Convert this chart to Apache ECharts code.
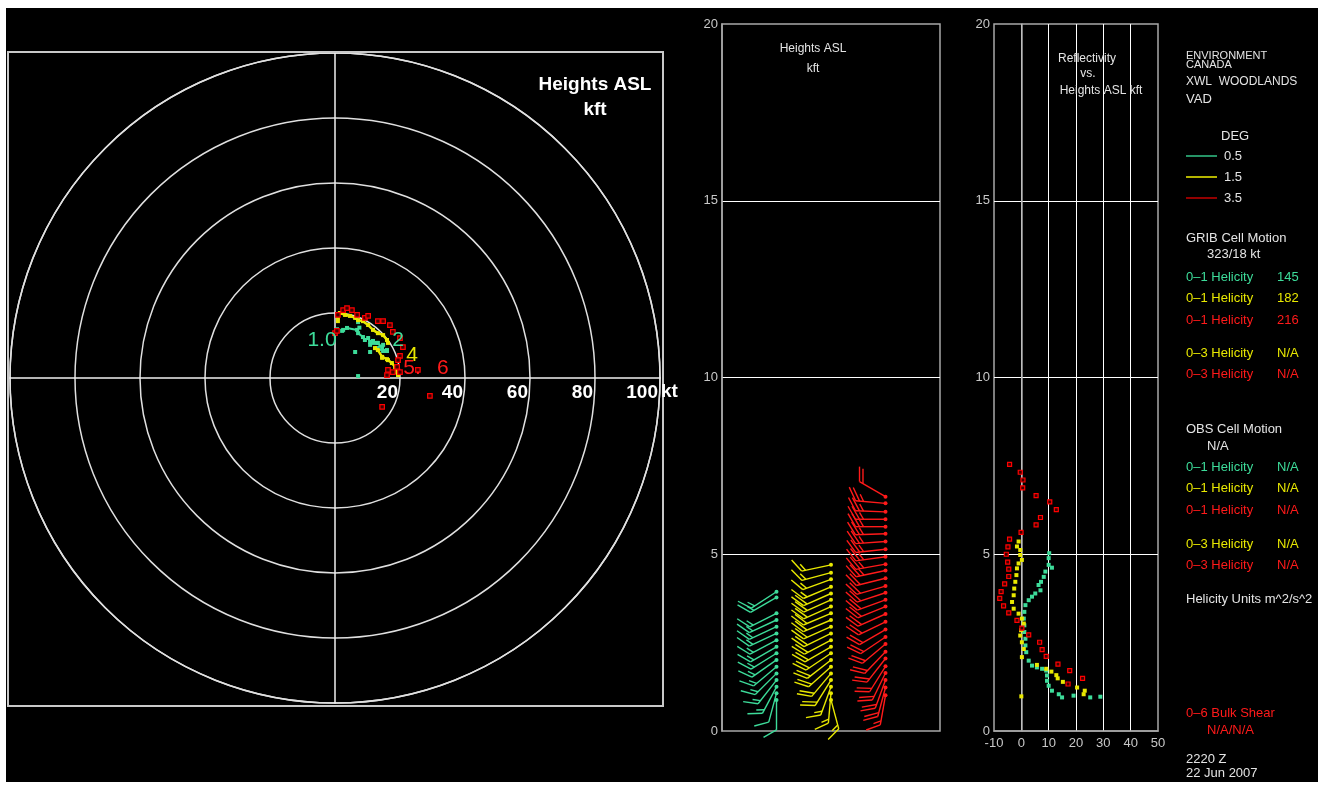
<!DOCTYPE html>
<html><head><meta charset="utf-8">
<script src="https://cdn.jsdelivr.net/npm/echarts@6/dist/echarts.min.js"></script>
<style>
html,body{margin:0;padding:0;background:#fff;width:1323px;height:785px;overflow:hidden;}
#c{position:absolute;left:6px;top:8px;width:1312px;height:774px;background:#000;}
</style></head>
<body><div id="c"></div>
<script>
// ---------- DATA ----------
// Hodograph (u, v in kt)
const hodoGreen = [[2.2,14.5],[2.5,14.8],[3.7,15.4],[6.8,14.8],[7.1,13.8],[8.6,12.6],[9.2,11.7],[10.2,12.3],[10.8,11.1],[11.7,11.4],[12.9,10.8],[13.2,10.8],[14.5,9.5],[14.8,10.2],[12.9,9.2],[14.8,8.3],[16.0,8.3]];
const hodoGreenExtra = [[7.1,17.2],[7.5,15.5],[6.2,8.0],[10.8,8.0],[10.8,10.2],[11.7,10.8],[16.0,8.6],[7.1,0.6],[0.6,15.0]];
const hodoYellowA = [[1.5,20.0],[3.1,19.4],[4.6,19.1],[6.2,18.5],[7.1,17.8],[8.6,17.5],[10.2,16.3],[11.7,14.8],[13.2,13.8],[14.8,13.2],[16.0,11.7],[16.3,10.8]];
const hodoYellowB = [[12.3,9.2],[13.2,8.6],[14.5,6.5],[16.0,5.8],[17.5,4.6],[18.5,3.4],[19.1,1.8],[19.4,0.9]];
const hodoYellowExtra = [[0.9,17.5],[0.9,18.5],[14.5,6.2],[16.3,5.5]];
const hodoRed = [[0,13.8],[0.6,14.5],[0.9,19.4],[2.5,20.9],[3.7,21.5],[5.2,20.9],[6.8,19.4],[9.2,18.5],[10.2,19.1],[13.2,17.5],[14.8,17.5],[16.9,16.3],[17.8,14.2],[20.0,12.3],[20.9,9.5],[20.0,6.8],[19.4,5.5],[19.1,3.4],[16.3,2.5],[17.8,1.8],[16.0,0.9],[20.0,1.8],[25.5,2.5],[29.2,-5.5],[14.5,-8.9]];
// Height labels on hodograph: [u, v, text, colour index]
const hodoHeightLabels = [[-4.0,11.7,'1.0',0],[19.4,11.7,'2',0],[23.7,7.1,'4',1],[23.7,3.1,'5.',2],[33.2,3.1,'6',2]];
// Ring speed labels (kt)
const hodoRingLabels = [20,40,60,80,100];

// Wind barbs: heights (kft), direction (deg from), speed (kt)
const barbGreenH   = [0.88,1.07,1.25,1.44,1.63,1.82,2.01,2.20,2.38,2.57,2.76,2.95,3.14,3.33,3.78,3.94];
const barbGreenDir = [180,195,208,218,225,230,235,238,240,242,245,245,245,243,240,237];
const barbGreenSpd = [10,12,15,15,15,15,15,15,15,15,15,18,18,18,15,15];
const barbYellowH   = [0.88,1.07,1.25,1.44,1.63,1.82,2.01,2.20,2.38,2.57,2.76,2.95,3.14,3.33,3.52,3.71,3.89,4.08,4.29,4.48,4.70];
const barbYellowDir = [165,185,200,212,220,228,232,236,240,242,244,246,247,247,246,246,246,247,250,255,258];
const barbYellowSpd = [15,15,15,20,20,20,20,20,20,20,20,20,20,20,20,20,20,15,15,15,15];
const barbRedH   = [1.01,1.23,1.44,1.64,1.83,2.05,2.24,2.46,2.66,2.87,3.09,3.31,3.52,3.71,3.91,4.10,4.32,4.54,4.72,4.93,5.14,5.36,5.58,5.78,5.99,6.20,6.44,6.63];
const barbRedDir = [190,195,200,206,212,218,224,230,236,240,244,246,248,250,252,254,256,258,260,262,264,266,268,270,270,272,275,300];
const barbRedSpd = [15,20,20,20,20,20,20,20,20,20,20,20,20,20,20,20,20,25,25,25,25,25,25,25,25,25,25,20];
const barbColumns = [25,50,75];

// Reflectivity (dBZ) vs height (kft)
const reflGreen = [[10.2,5.03],[10,4.89],[10,4.70],[11.2,4.62],[8.8,4.51],[8.2,4.36],[7.2,4.22],[6.3,4.13],[7.0,3.98],[5.1,3.89],[3.9,3.80],[2.7,3.70],[1.5,3.56],[1.1,3.37],[0.9,3.18],[1.1,2.99],[1.1,2.80],[1.5,2.61],[1.5,2.42],[1.8,2.23],[2.7,1.99],[3.9,1.85],[5.7,1.80],[7.6,1.76],[9.1,1.71],[9.4,1.57],[9.4,1.42],[10,1.28],[11.2,1.14],[13.7,1.04],[14.9,0.95],[19.1,1.00],[25.2,0.95],[28.9,0.97]];
const reflYellow = [[-1.0,5.36],[-1.6,5.22],[-0.4,5.12],[-0.4,4.98],[0.2,4.84],[-1.0,4.74],[-1.6,4.60],[-1.8,4.41],[-2.2,4.22],[-2.6,4.03],[-2.8,3.84],[-3.4,3.65],[-2.8,3.46],[-1.0,3.32],[0.2,3.18],[0.9,3.04],[-0.1,2.85],[-0.4,2.70],[0.2,2.51],[0.9,2.32],[0.2,2.09],[5.7,1.87],[9.1,1.76],[11,1.68],[12.8,1.58],[13.3,1.49],[15.2,1.39],[20.4,1.23],[23.2,1.14],[22.8,1.04],[0.0,0.98]];
const reflRed = [[-4.3,7.54],[-0.4,7.32],[0.6,7.10],[0.5,6.88],[5.4,6.66],[10.4,6.48],[12.8,6.26],[7.0,6.04],[5.4,5.83],[-0.1,5.62],[-4.3,5.43],[-4.9,5.21],[-5.5,5.00],[-5.0,4.78],[-4.6,4.58],[-4.6,4.37],[-6.1,4.16],[-7.4,3.94],[-7.9,3.75],[-6.5,3.54],[-4.6,3.34],[-1.6,3.13],[0.2,2.91],[2.7,2.72],[6.7,2.51],[7.6,2.30],[9.1,2.11],[13.4,1.89],[17.7,1.71],[22.4,1.49],[17.1,1.33]];

// Side-panel texts
const helicityRows1 = [['0–1 Helicity','145',0],['0–1 Helicity','182',1],['0–1 Helicity','216',2]];
const helicityRows2 = [['0–3 Helicity','N/A',1],['0–3 Helicity','N/A',2]];
const helicityRows3 = [['0–1 Helicity','N/A',0],['0–1 Helicity','N/A',1],['0–1 Helicity','N/A',2]];
const helicityRows4 = [['0–3 Helicity','N/A',1],['0–3 Helicity','N/A',2]];
const degLabels = ['0.5','1.5','3.5'];

// ---------- STYLE ----------
const COLS = ['#3ddc9a','#e8e800','#ff1a1a'];
const LEGCOLS = ['#33c488','#f0f000','#c40000'];
const TXT = '#e4e4e4';
const GRAY = '#a8a8a8';
const FONT = '"Liberation Sans", Arial, sans-serif';

const chart = echarts.init(document.getElementById('c'), null, {renderer:'canvas'});

function barbRender(color){
  return function(params, api){
    const p = api.coord([api.value(0), api.value(1)]);
    const D = api.value(2)*Math.PI/180;
    const spd = api.value(3);
    const sx = Math.sin(D), sy = -Math.cos(D);
    const L = 30;
    const tip = [p[0]+sx*L, p[1]+sy*L];
    const a = Math.PI/3;
    const fx = sx*Math.cos(a) - sy*Math.sin(a);
    const fy = sx*Math.sin(a) + sy*Math.cos(a);
    const st = {stroke: color, lineWidth: 1.4};
    const ch = [
      {type:'line', shape:{x1:p[0],y1:p[1],x2:tip[0],y2:tip[1]}, style: st},
      {type:'circle', shape:{cx:p[0],cy:p[1],r:2}, style:{fill:color}}
    ];
    const full = Math.floor(spd/10), half = (spd%10) >= 5 ? 1 : 0;
    let pos = 0;
    for (let i=0;i<full;i++){
      const b = [tip[0]-sx*pos, tip[1]-sy*pos];
      ch.push({type:'line', shape:{x1:b[0],y1:b[1],x2:b[0]+fx*15,y2:b[1]+fy*15}, style: st});
      pos += 4;
    }
    if (half){
      if (full===0) pos = 4;
      const b = [tip[0]-sx*pos, tip[1]-sy*pos];
      ch.push({type:'line', shape:{x1:b[0],y1:b[1],x2:b[0]+fx*8,y2:b[1]+fy*8}, style: st});
    }
    return {type:'group', children: ch};
  };
}
function barbData(col, H, Dir, Spd){ return H.map((h,i)=>[col,h,Dir[i],Spd[i]]); }

// graphic texts
const g = [];
function txt(x,y,t,color,size,opts){
  g.push({type:'text', x:x, y:y, silent:true, z:10,
    style:{text:t, fill:color, font:(opts&&opts.bold?'bold ':'')+size+'px '+FONT,
      align:(opts&&opts.align)||'left', verticalAlign:'middle'}});
}
g.push({type:'rect', shape:{x:2,y:44,width:655,height:654}, style:{fill:'none', stroke:'#c8c8c8', lineWidth:2}, silent:true, z:5});
txt(589,77,'Heights ASL','#fff',19,{bold:true,align:'center'});
txt(589,102,'kft','#fff',19,{bold:true,align:'center'});
txt(655,384,'kt','#fff',19,{bold:true});
txt(807,41,'Heights ASL',TXT,12,{align:'center'});
txt(807,61,'kft',TXT,12,{align:'center'});
txt(1081,51,'Reflectivity',TXT,12,{align:'center'});
txt(1082,66,'vs.',TXT,12,{align:'center'});
txt(1095,83,'Heights ASL kft',TXT,12,{align:'center'});
txt(1180,48,'ENVIRONMENT',TXT,11);
txt(1180,57,'CANADA',TXT,11);
txt(1180,74,'XWL  WOODLANDS',TXT,12);
txt(1180,91,'VAD',TXT,13);
txt(1215,128,'DEG',TXT,13);
degLabels.forEach((d,i)=>{
  const y = 148 + i*21;
  g.push({type:'line', shape:{x1:1180,y1:y,x2:1211,y2:y}, style:{stroke:LEGCOLS[i], lineWidth:1.5}, silent:true});
  txt(1218,y,d,TXT,13);
});
txt(1180,230,'GRIB Cell Motion',TXT,13);
txt(1201,246,'323/18 kt',TXT,13);
function rows(arr, y0){
  arr.forEach((r,i)=>{ const y=y0+i*21.5; txt(1180,y,r[0],COLS[r[2]],13); txt(1271,y,r[1],COLS[r[2]],13); });
}
rows(helicityRows1,269);
rows(helicityRows2,345);
txt(1180,421,'OBS Cell Motion',TXT,13);
txt(1201,438,'N/A',TXT,13);
rows(helicityRows3,459);
rows(helicityRows4,536);
txt(1180,591,'Helicity Units m^2/s^2',TXT,13);
txt(1180,705,'0–6 Bulk Shear',COLS[2],13);
txt(1201,722,'N/A/N/A',COLS[2],13);
txt(1180,751,'2220 Z',TXT,13);
txt(1180,765,'22 Jun 2007',TXT,13);

const op = {opacity:1};
const option = {
  backgroundColor:'#000',
  animation:false,
  polar:{center:[329,370], radius:325},
  angleAxis:{type:'value', min:0, max:360, startAngle:0, axisLine:{show:true, lineStyle:{color:'#e0e0e0', width:1.5}}, axisTick:{show:false}, axisLabel:{show:false}, splitLine:{show:false}},
  radiusAxis:{type:'value', min:0, max:100, interval:20, axisLine:{show:false}, axisTick:{show:false}, axisLabel:{show:false}, splitLine:{show:true, lineStyle:{color:'#e0e0e0', width:1.5}}},
  grid:[
    {left:4, top:45, width:650, height:650},
    {left:716, top:16, width:218, height:707, show:true, borderColor:GRAY, borderWidth:1.5, backgroundColor:'transparent'},
    {left:988, top:16, width:164, height:707, show:true, borderColor:GRAY, borderWidth:1.5, backgroundColor:'transparent'}
  ],
  xAxis:[
    {gridIndex:0, type:'value', min:-100, max:100, interval:20,
      axisLine:{onZero:true, lineStyle:{color:'#f0f0f0', width:1.5}}, axisTick:{show:false}, splitLine:{show:false}, axisLabel:{show:false}},
    {gridIndex:1, type:'value', min:0, max:100, show:false},
    {gridIndex:2, type:'value', min:-10, max:50, interval:10,
      axisLine:{show:true, lineStyle:{color:GRAY, width:1.5}}, axisTick:{show:false},
      axisLabel:{color:'#c8c8c8', fontSize:13, fontFamily:FONT, margin:6},
      splitLine:{show:true, showMinLine:false, showMaxLine:false, lineStyle:{color:'#fff', width:1}}}
  ],
  yAxis:[
    {gridIndex:0, type:'value', min:-100, max:100, interval:20,
      axisLine:{onZero:true, lineStyle:{color:'#f0f0f0', width:1.5}}, axisTick:{show:false}, axisLabel:{show:false}, splitLine:{show:false}},
    {gridIndex:1, type:'value', min:0, max:20, interval:5,
      axisLine:{show:true, lineStyle:{color:GRAY, width:1.5}}, axisTick:{show:false},
      axisLabel:{color:'#c8c8c8', fontSize:13, fontFamily:FONT, margin:4},
      splitLine:{show:true, showMinLine:false, showMaxLine:false, lineStyle:{color:'#fff', width:1}}},
    {gridIndex:2, type:'value', min:0, max:20, interval:5,
      axisLine:{show:true, lineStyle:{color:GRAY, width:1.5}}, axisTick:{show:false},
      axisLabel:{color:'#c8c8c8', fontSize:13, fontFamily:FONT, margin:4},
      splitLine:{show:true, showMinLine:false, showMaxLine:false, lineStyle:{color:'#fff', width:1}}}
  ],
  series:[
    {type:'scatter', xAxisIndex:0, yAxisIndex:0, symbolSize:0, silent:true, z:6, itemStyle:op,
      data:hodoRingLabels.map(v=>({value:[v,0], label:{show:true, position:'inside', formatter:String(v), align:'right', verticalAlign:'top', offset:[-2,5], color:'#fff', opacity:1, fontSize:19, fontWeight:'bold', fontFamily:FONT}}))},
    {type:'line', xAxisIndex:0, yAxisIndex:0, data:hodoGreen, symbol:'rect', symbolSize:4, showSymbol:true,
      lineStyle:{color:COLS[0], width:2}, itemStyle:{color:COLS[0], opacity:1}, z:3},
    {type:'scatter', xAxisIndex:0, yAxisIndex:0, data:hodoGreenExtra, symbol:'rect', symbolSize:4, itemStyle:{color:COLS[0], opacity:1}, z:3},
    {type:'line', xAxisIndex:0, yAxisIndex:0, data:hodoYellowA, symbol:'rect', symbolSize:4, showSymbol:true,
      lineStyle:{color:COLS[1], width:2.5}, itemStyle:{color:COLS[1], opacity:1}, z:4},
    {type:'line', xAxisIndex:0, yAxisIndex:0, data:hodoYellowB, symbol:'rect', symbolSize:4, showSymbol:true,
      lineStyle:{color:COLS[1], width:2.5}, itemStyle:{color:COLS[1], opacity:1}, z:4},
    {type:'scatter', xAxisIndex:0, yAxisIndex:0, data:hodoYellowExtra, symbol:'rect', symbolSize:4, itemStyle:{color:COLS[1], opacity:1}, z:4},
    {type:'scatter', xAxisIndex:0, yAxisIndex:0, data:hodoRed, symbol:'rect', symbolSize:4.5,
      itemStyle:{color:'#400000', borderColor:'#ff0000', borderWidth:1.2, opacity:1}, z:5},
    {type:'scatter', xAxisIndex:0, yAxisIndex:0, symbolSize:0, silent:true, z:6, itemStyle:op,
      data:hodoHeightLabels.map(d=>({value:[d[0],d[1]], label:{show:true, position:'inside', formatter:d[2], color:COLS[d[3]], opacity:1, fontSize:21, fontFamily:FONT}}))},
    {type:'custom', xAxisIndex:1, yAxisIndex:1, clip:false, renderItem:barbRender(COLS[0]), data:barbData(barbColumns[0],barbGreenH,barbGreenDir,barbGreenSpd), z:5},
    {type:'custom', xAxisIndex:1, yAxisIndex:1, clip:false, renderItem:barbRender(COLS[1]), data:barbData(barbColumns[1],barbYellowH,barbYellowDir,barbYellowSpd), z:5},
    {type:'custom', xAxisIndex:1, yAxisIndex:1, clip:false, renderItem:barbRender(COLS[2]), data:barbData(barbColumns[2],barbRedH,barbRedDir,barbRedSpd), z:5},
    {type:'scatter', xAxisIndex:2, yAxisIndex:2, data:reflGreen, symbol:'rect', symbolSize:4, itemStyle:{color:COLS[0], opacity:1}, z:5},
    {type:'scatter', xAxisIndex:2, yAxisIndex:2, data:reflYellow, symbol:'rect', symbolSize:4, itemStyle:{color:COLS[1], opacity:1}, z:5},
    {type:'scatter', xAxisIndex:2, yAxisIndex:2, data:reflRed, symbol:'rect', symbolSize:4,
      itemStyle:{color:'#400000', borderColor:'#ff0000', borderWidth:1.2, opacity:1}, z:5}
  ],
  graphic:g
};
chart.setOption(option);
</script>
</body></html>
